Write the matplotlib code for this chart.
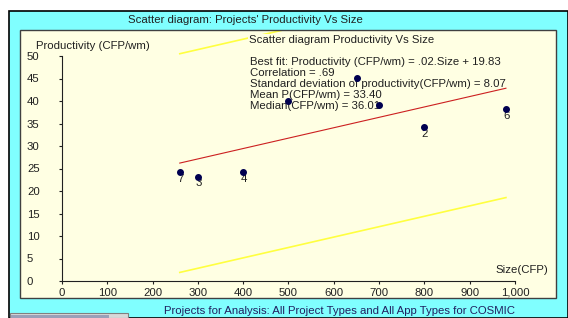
import numpy as np
import matplotlib
matplotlib.use('Agg')
import matplotlib.pyplot as plt
import matplotlib.ticker as ticker
from matplotlib.patches import Rectangle

W, H = 568, 318

# values
size_cfp = [260, 300, 400, 500, 651, 700, 799, 980]
productivity = [24.2, 23.2, 24.2, 40.0, 45.1, 39.1, 34.2, 38.2]
# labels of the three points hidden behind the statistics text are left empty
project_ids = ['7', '3', '4', '', '', '', '2', '6']

fit_slope = 0.0231
fit_intercept = 20.2
band = 24.3

x_ticks = [0, 100, 200, 300, 400, 500, 600, 700, 800, 900, 1000]
y_ticks = [0, 5, 10, 15, 20, 25, 30, 35, 40, 45, 50]

stats_lines = [
    'Best fit: Productivity (CFP/wm) = .02.Size + 19.83',
    'Correlation = .69',
    'Standard deviation of productivity(CFP/wm) = 8.07',
    'Mean P(CFP/wm) = 33.40',
    'Median(CFP/wm) = 36.01',
]

CYAN = '#80FFFF'
BEIGE = '#FFFFE3'
NAVY = '#000050'
FS = 8.2

plt.rcParams['font.family'] = ['Liberation Sans', 'DejaVu Sans']
plt.rcParams['font.size'] = FS


def fx(x):
    return x / W


def fy(y):
    return 1 - y / H


fig = plt.figure(figsize=(W / 100, H / 100), dpi=100)
fig.patch.set_facecolor('white')

# cyan window panel
fig.patches.append(Rectangle((fx(9), 0), fx(W - 9), fy(11), transform=fig.transFigure,
                             facecolor=CYAN, edgecolor='black', lw=1.2, zorder=-2))
# little grey bar bottom left
fig.patches.append(Rectangle((fx(10), 0), fx(118), 5 / H, transform=fig.transFigure,
                             facecolor='#d8d8d8', edgecolor='#808080', lw=0.8, zorder=-1))
fig.patches.append(Rectangle((fx(11), 0), fx(98), 3.5 / H, transform=fig.transFigure,
                             facecolor='#9aa0b8', edgecolor='none', zorder=-1))

# axes fill the beige panel; scale 0.453 px per CFP, 4.5 px per unit of productivity
left, right, top, bottom = 20, 556, 30, 298
x0_px, y0_px, sx, sy = 62, 281, 0.453, 4.5
ax = fig.add_axes([fx(left), fy(bottom), fx(right - left), (bottom - top) / H])
ax.set_facecolor(BEIGE)
ax.set_xlim((left - x0_px) / sx, (right - x0_px) / sx)
ax.set_ylim((y0_px - bottom) / sy, (y0_px - top) / sy)

fig.patches.append(Rectangle((fx(left), fy(bottom)), fx(right - left), (bottom - top) / H,
                             transform=fig.transFigure, facecolor='none',
                             edgecolor='#404040', lw=1.0, zorder=5))

for s in ['top', 'right']:
    ax.spines[s].set_visible(False)
ax.spines['left'].set_position(('data', 0))
ax.spines['bottom'].set_position(('data', 0))
ax.spines['left'].set_bounds(0, 50)
ax.spines['bottom'].set_bounds(0, 1000)
for s in ['left', 'bottom']:
    ax.spines[s].set_color('#202020')
    ax.spines[s].set_linewidth(0.8)

ax.set_xticks(x_ticks)
ax.set_yticks(y_ticks)
ax.xaxis.set_major_formatter(ticker.FuncFormatter(lambda v, p: f'{v:,.0f}'))
ax.tick_params(axis='both', direction='out', length=2.2, width=0.8, color='#202020',
               labelcolor='#202020', labelsize=FS)
ax.tick_params(axis='x', pad=2.5)
ax.tick_params(axis='y', pad=23)
for lab in ax.get_yticklabels():
    lab.set_horizontalalignment('left')

# fit line and the band around it
xs = np.array([min(size_cfp), max(size_cfp)])
fit = fit_intercept + fit_slope * xs
ax.plot(xs, fit + band, color='#FFFF40', lw=1.2, zorder=2)
ax.plot(xs, fit - band, color='#FFFF40', lw=1.2, zorder=2)
ax.plot(xs, fit, color='#CC2020', lw=0.8, zorder=2)

# projects
ax.scatter(size_cfp, productivity, s=16, color=NAVY, zorder=4)
for x, y, name in zip(size_cfp, productivity, project_ids):
    if name:
        ax.annotate(name, (x, y), xytext=(0.8, -4.8), textcoords='offset points',
                    ha='center', va='center', fontsize=FS, color='#202020', zorder=2.9)

box = dict(facecolor=BEIGE, edgecolor='none', pad=0.6)
ax.text(fx(249), fy(40), 'Scatter diagram Productivity Vs Size', transform=fig.transFigure,
        ha='left', va='center', fontsize=FS, color='#202020', bbox=box, zorder=3)
for i, line in enumerate(stats_lines):
    ax.text(fx(250), fy(62 + 11 * i), line, transform=fig.transFigure,
            ha='left', va='center', fontsize=FS, color='#202020', zorder=3)

ax.text(fx(36), fy(46), 'Productivity (CFP/wm)', transform=fig.transFigure,
        ha='left', va='center', fontsize=FS, color='#202020', zorder=3)
ax.text(fx(548), fy(270), 'Size(CFP)', transform=fig.transFigure,
        ha='right', va='center', fontsize=FS, color='#202020', zorder=3)

fig.text(fx(245), fy(20), "Scatter diagram: Projects' Productivity Vs Size",
         ha='center', va='center', fontsize=FS, color='#202020')
fig.text(fx(340), fy(311), 'Projects for Analysis: All Project Types and All App Types for COSMIC',
         ha='center', va='center', fontsize=FS, color='#202060')

fig.savefig('out.png', dpi=100)
